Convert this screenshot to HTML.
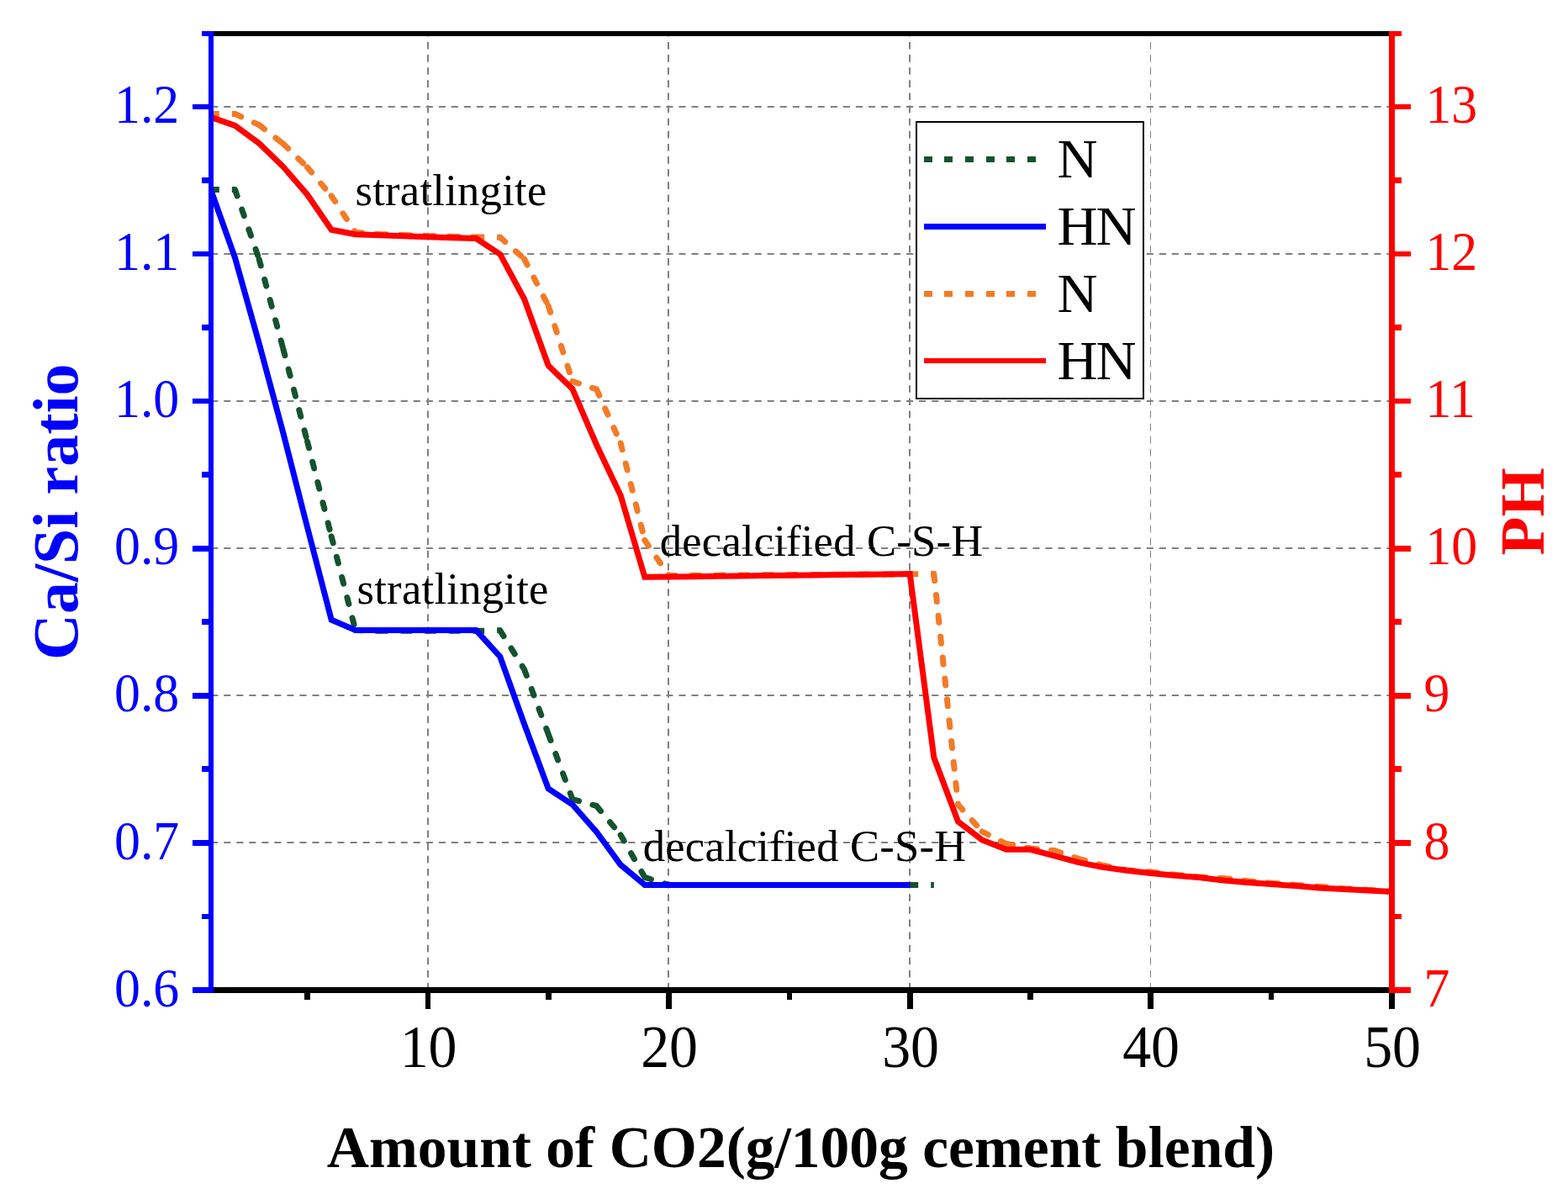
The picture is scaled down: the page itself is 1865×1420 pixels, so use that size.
<!DOCTYPE html>
<html lang="en"><head><meta charset="utf-8"><title>Ca/Si ratio and PH vs amount of CO2</title>
<style>html,body{margin:0;padding:0;background:#fff}body{width:1865px;height:1420px;overflow:hidden}svg{display:block}text{font-family:"Liberation Serif","Times New Roman",serif}</style></head><body>
<svg width="1865" height="1420" viewBox="0 0 1865 1420">
<rect x="0" y="0" width="1865" height="1420" fill="#ffffff"/>
<g id="grid" stroke="#808080" stroke-width="2" fill="none">
<line x1="251.2" y1="1002" x2="1652" y2="1002" stroke-dasharray="8.1 6.934"/>
<line x1="251.2" y1="827" x2="1652" y2="827" stroke-dasharray="8.1 6.934"/>
<line x1="251.2" y1="652" x2="1652" y2="652" stroke-dasharray="8.1 6.934"/>
<line x1="251.2" y1="477" x2="1652" y2="477" stroke-dasharray="8.1 6.934"/>
<line x1="251.2" y1="302" x2="1652" y2="302" stroke-dasharray="8.1 6.934"/>
<line x1="251.2" y1="127" x2="1652" y2="127" stroke-dasharray="8.1 6.934"/>
<line x1="509" y1="1177.6" x2="509" y2="43" stroke-width="2" stroke-dasharray="8.6 6.522"/>
<line x1="795" y1="1177.6" x2="795" y2="43" stroke-width="2" stroke-dasharray="8.6 6.522"/>
<line x1="1082" y1="1177.6" x2="1082" y2="43" stroke-width="2" stroke-dasharray="8.6 6.522"/>
<line x1="1368.5" y1="1177.6" x2="1368.5" y2="43" stroke-width="1" stroke-dasharray="8.6 6.522"/>
</g>
<defs><clipPath id="plotclip"><rect x="251" y="40" width="1404.5" height="1137.5"/></clipPath></defs>
<g id="curves" clip-path="url(#plotclip)">
<g stroke="#14532d" stroke-width="7" fill="none">
<path d="M250.85 225.5L279.52 225.5M451.52 750.3L480.19 750.3M480.19 750.3L508.85 750.3M508.85 750.3L537.52 750.3M537.52 750.3L566.19 750.3M566.19 750.3L594.85 749.8M795.52 1052.4L824.19 1052.4M824.19 1052.4L852.86 1052.4M852.86 1052.4L881.52 1052.4M881.52 1052.4L910.19 1052.4M910.19 1052.4L938.86 1052.4M938.86 1052.4L967.53 1052.4M967.53 1052.4L996.19 1052.4M996.19 1052.4L1024.86 1052.4M1024.86 1052.4L1053.53 1052.4M1053.53 1052.4L1082.19 1052.4M1082.19 1052.4L1110.86 1052.4" stroke-dasharray="10 15" stroke-linecap="butt"/>
<path d="M279.52 225.5L308.18 308.3M308.18 308.3L336.85 415M336.85 415L365.52 525M365.52 525L394.19 638M394.19 638L422.85 749.5M422.85 749.5L451.52 750.3M594.85 749.8L623.52 796M623.52 796L652.19 873M652.19 873L680.86 950.5M680.86 950.5L709.52 958.5M709.52 958.5L738.19 993M738.19 993L766.86 1043.3M766.86 1043.3L795.52 1052.4" stroke-dasharray="8 17" stroke-linecap="round"/>
</g>
<polyline points="250.85,226 279.52,306.5 308.18,408.5 336.85,515 365.52,627 394.19,737.2 422.85,749.5 451.52,749.5 480.19,749.5 508.85,749.5 537.52,749.5 566.19,749.5 594.85,781 623.52,861 652.19,938 680.86,956.8 709.52,989.5 738.19,1028.5 766.86,1052.4 795.52,1052.4 824.19,1052.4 852.86,1052.4 881.52,1052.4 910.19,1052.4 938.86,1052.4 967.53,1052.4 996.19,1052.4 1024.86,1052.4 1053.53,1052.4 1082.19,1052.4" stroke="#0000ff" stroke-width="7" fill="none" stroke-linejoin="miter" stroke-miterlimit="3" stroke-linecap="butt"/>
<g stroke="#f47a26" stroke-width="7" fill="none">
<path d="M250.85 135.4L279.52 135.4M566.19 282L594.85 282.2M795.52 684.5L824.19 684.33M824.19 684.33L852.86 684.15M852.86 684.15L881.52 683.98M881.52 683.98L910.19 683.81M910.19 683.81L938.86 683.64M938.86 683.64L967.53 683.46M967.53 683.46L996.19 683.29M996.19 683.29L1024.86 683.12M1024.86 683.12L1053.53 682.95M1053.53 682.95L1082.19 682.77M1082.19 682.77L1110.86 682.6" stroke-dasharray="10 15" stroke-linecap="butt"/>
<path d="M279.52 135.4L308.18 148.6M308.18 148.6L336.85 171M336.85 171L365.52 199M365.52 199L394.19 233M394.19 233L422.85 276.5M422.85 276.5L451.52 278.5M451.52 278.5L480.19 279.5M480.19 279.5L508.85 280.5M508.85 280.5L537.52 281.3M537.52 281.3L566.19 282M594.85 282.2L623.52 307.9M623.52 307.9L652.19 363.7M652.19 363.7L680.86 453.5M680.86 453.5L709.52 463M709.52 463L738.19 527M738.19 527L766.86 642.5M766.86 642.5L795.52 684.5M1110.86 682.6L1139.53 957M1139.53 957L1168.19 989M1168.19 989L1196.86 1003.5M1196.86 1003.5L1225.53 1009M1225.53 1009L1254.19 1011.5M1254.19 1011.5L1282.86 1021.4M1282.86 1021.4L1311.53 1029.1M1311.53 1029.1L1340.2 1034.9M1340.2 1034.9L1368.86 1037.1M1368.86 1037.1L1397.53 1040.3M1397.53 1040.3L1426.2 1043.1M1426.2 1043.1L1454.86 1044.4M1454.86 1044.4L1483.53 1047.7M1483.53 1047.7L1512.2 1050.2M1512.2 1050.2L1540.87 1052.4M1540.87 1052.4L1569.53 1054.4M1569.53 1054.4L1598.2 1056.7M1598.2 1056.7L1626.87 1058.2M1626.87 1058.2L1655.53 1059.9" stroke-dasharray="8 17" stroke-linecap="round"/>
</g>
<polyline points="250.85,139.4 279.52,149.4 308.18,170.4 336.85,198.3 365.52,231.5 394.19,273.3 422.85,278.8 451.52,279.8 480.19,280.8 508.85,281.8 537.52,282.7 566.19,283.5 594.85,302.4 623.52,355.5 652.19,434.8 680.86,462.6 709.52,529 738.19,589.3 766.86,686.3 795.52,685.96 824.19,685.63 852.86,685.29 881.52,684.95 910.19,684.62 938.86,684.28 967.53,683.95 996.19,683.61 1024.86,683.27 1053.53,682.94 1082.19,682.6 1110.86,901.1 1139.53,977 1168.19,999 1196.86,1010.3 1225.53,1010.3 1254.19,1017.9 1282.86,1025.6 1311.53,1031.4 1340.2,1035.3 1368.86,1038.5 1397.53,1041.3 1426.2,1043.6 1454.86,1046.9 1483.53,1049.4 1512.2,1051.6 1540.87,1053.6 1569.53,1055.9 1598.2,1057.4 1626.87,1059.1 1655.53,1060.4" stroke="#ff0000" stroke-width="7" fill="none" stroke-linejoin="miter" stroke-miterlimit="3" stroke-linecap="butt"/>
</g>
<g id="annotations" fill="#000">
<text x="422.4" y="244.4" font-size="52.6" letter-spacing="0.27">stratlingite</text>
<text x="424.5" y="718.3" font-size="52.6" letter-spacing="0.27">stratlingite</text>
<text x="784.8" y="661.3" font-size="52.6" letter-spacing="0.2">decalcified C-S-H</text>
<text x="764.8" y="1024.2" font-size="52.6" letter-spacing="0.2">decalcified C-S-H</text>
</g>
<g id="axes" shape-rendering="crispEdges">
<rect x="254" y="37" width="1398" height="6" fill="#000"/>
<rect x="254" y="1174" width="1398" height="7" fill="#000"/>
<rect x="362" y="1181" width="7" height="8" fill="#000"/>
<rect x="506" y="1181" width="6" height="19" fill="#000"/>
<rect x="649" y="1181" width="7" height="8" fill="#000"/>
<rect x="792" y="1181" width="7" height="19" fill="#000"/>
<rect x="936" y="1181" width="6" height="8" fill="#000"/>
<rect x="1079" y="1181" width="7" height="19" fill="#000"/>
<rect x="1222" y="1181" width="7" height="8" fill="#000"/>
<rect x="1365" y="1181" width="7" height="19" fill="#000"/>
<rect x="1509" y="1181" width="6" height="8" fill="#000"/>
<rect x="1652" y="1181" width="7" height="19" fill="#000"/>
<rect x="248" y="37" width="6" height="1144" fill="#0000ff"/>
<rect x="1652" y="37" width="7" height="1144" fill="#ff0000"/>
<rect x="229" y="124" width="19" height="6" fill="#0000ff"/>
<rect x="1659" y="124" width="19" height="6" fill="#ff0000"/>
<rect x="229" y="299" width="19" height="6" fill="#0000ff"/>
<rect x="1659" y="299" width="19" height="6" fill="#ff0000"/>
<rect x="229" y="474" width="19" height="6" fill="#0000ff"/>
<rect x="1659" y="474" width="19" height="6" fill="#ff0000"/>
<rect x="229" y="649" width="19" height="7" fill="#0000ff"/>
<rect x="1659" y="649" width="19" height="7" fill="#ff0000"/>
<rect x="229" y="824" width="19" height="7" fill="#0000ff"/>
<rect x="1659" y="824" width="19" height="7" fill="#ff0000"/>
<rect x="229" y="999" width="19" height="7" fill="#0000ff"/>
<rect x="1659" y="999" width="19" height="7" fill="#ff0000"/>
<rect x="229" y="1174" width="19" height="7" fill="#0000ff"/>
<rect x="1659" y="1174" width="19" height="7" fill="#ff0000"/>
<rect x="240" y="37" width="8" height="6" fill="#0000ff"/>
<rect x="1659" y="37" width="8" height="6" fill="#ff0000"/>
<rect x="240" y="211" width="8" height="7" fill="#0000ff"/>
<rect x="1659" y="211" width="8" height="7" fill="#ff0000"/>
<rect x="240" y="386" width="8" height="7" fill="#0000ff"/>
<rect x="1659" y="386" width="8" height="7" fill="#ff0000"/>
<rect x="240" y="561" width="8" height="7" fill="#0000ff"/>
<rect x="1659" y="561" width="8" height="7" fill="#ff0000"/>
<rect x="240" y="736" width="8" height="7" fill="#0000ff"/>
<rect x="1659" y="736" width="8" height="7" fill="#ff0000"/>
<rect x="240" y="911" width="8" height="7" fill="#0000ff"/>
<rect x="1659" y="911" width="8" height="7" fill="#ff0000"/>
<rect x="240" y="1087" width="8" height="6" fill="#0000ff"/>
<rect x="1659" y="1087" width="8" height="6" fill="#ff0000"/>
</g>
<g id="legend">
<rect x="1090" y="145" width="270" height="329" fill="#fff" stroke="#000" stroke-width="2" shape-rendering="crispEdges"/>
<rect x="1099" y="186" width="10" height="7" fill="#14532d" shape-rendering="crispEdges"/>
<rect x="1123" y="186" width="10" height="7" fill="#14532d" shape-rendering="crispEdges"/>
<rect x="1148" y="186" width="10" height="7" fill="#14532d" shape-rendering="crispEdges"/>
<rect x="1173" y="186" width="10" height="7" fill="#14532d" shape-rendering="crispEdges"/>
<rect x="1197" y="186" width="10" height="7" fill="#14532d" shape-rendering="crispEdges"/>
<rect x="1222" y="186" width="10" height="7" fill="#14532d" shape-rendering="crispEdges"/>
<text x="1257.5" y="210.8" font-size="66.5" letter-spacing="-2" fill="#000">N</text>
<rect x="1099" y="266" width="145" height="7" fill="#0000ff" shape-rendering="crispEdges"/>
<text x="1257.5" y="290.8" font-size="66.5" letter-spacing="-2" fill="#000">HN</text>
<rect x="1099" y="346" width="10" height="7" fill="#f47a26" shape-rendering="crispEdges"/>
<rect x="1123" y="346" width="10" height="7" fill="#f47a26" shape-rendering="crispEdges"/>
<rect x="1148" y="346" width="10" height="7" fill="#f47a26" shape-rendering="crispEdges"/>
<rect x="1173" y="346" width="10" height="7" fill="#f47a26" shape-rendering="crispEdges"/>
<rect x="1197" y="346" width="10" height="7" fill="#f47a26" shape-rendering="crispEdges"/>
<rect x="1222" y="346" width="10" height="7" fill="#f47a26" shape-rendering="crispEdges"/>
<text x="1257.5" y="370.8" font-size="66.5" letter-spacing="-2" fill="#000">N</text>
<rect x="1099" y="426" width="145" height="6" fill="#ff0000" shape-rendering="crispEdges"/>
<text x="1257.5" y="450.8" font-size="66.5" letter-spacing="-2" fill="#000">HN</text>
</g>
<g id="ylabels" fill="#0000ff" font-size="66.5" text-anchor="end">
<text transform="translate(213.3 1196.5) scale(0.93 1)">0.6</text>
<text transform="translate(213.3 1021.5) scale(0.93 1)">0.7</text>
<text transform="translate(213.3 846.3) scale(0.93 1)">0.8</text>
<text transform="translate(213.3 670.8) scale(0.93 1)">0.9</text>
<text transform="translate(213.3 495.8) scale(0.93 1)">1.0</text>
<text transform="translate(213.3 320.8) scale(0.93 1)">1.1</text>
<text transform="translate(213.3 145.8) scale(0.93 1)">1.2</text>
</g>
<g id="rlabels" fill="#ff0000" font-size="66.5">
<text transform="translate(1693.6 1196.5) scale(0.93 1)">7</text>
<text transform="translate(1693.6 1021.5) scale(0.93 1)">8</text>
<text transform="translate(1693.6 846.3) scale(0.93 1)">9</text>
<text transform="translate(1695.4 670.8) scale(0.93 1)">10</text>
<text transform="translate(1695.4 495.8) scale(0.93 1)">11</text>
<text transform="translate(1695.4 320.8) scale(0.93 1)">12</text>
<text transform="translate(1695.4 145.8) scale(0.93 1)">13</text>
</g>
<g id="xlabels" fill="#000" font-size="71.5" text-anchor="middle">
<text transform="translate(509.6 1269.2) scale(0.95 1)">10</text>
<text transform="translate(796.1 1269.2) scale(0.95 1)">20</text>
<text transform="translate(1083.1 1269.2) scale(0.95 1)">30</text>
<text transform="translate(1369.1 1269.2) scale(0.95 1)">40</text>
<text transform="translate(1656.1 1269.2) scale(0.95 1)">50</text>
</g>
<text x="92.3" y="608.7" font-size="76" text-anchor="middle" font-weight="bold" fill="#0000ff" transform="rotate(-90 92.3 608.7)">Ca/Si ratio</text>
<text x="1836" y="608.3" font-size="75" text-anchor="middle" font-weight="bold" fill="#ff0000" transform="rotate(-90 1836 608.3)">PH</text>
<text x="952.4" y="1388" font-size="69.5" text-anchor="middle" font-weight="bold" fill="#000">Amount of CO2(g/100g cement blend)</text>
</svg></body></html>
